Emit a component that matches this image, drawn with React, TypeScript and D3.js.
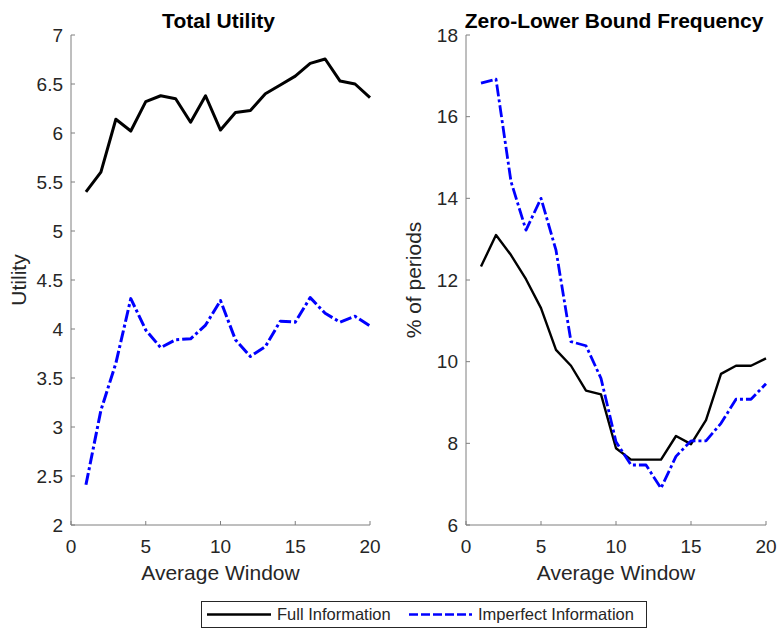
import React from "react";
import * as d3 from "d3";

// Averaging window lengths (x values shared by both panels)
const windows = [1, 2, 3, 4, 5, 6, 7, 8, 9, 10, 11, 12, 13, 14, 15, 16, 17, 18, 19, 20];

// Total utility
const utilityFull = [5.40, 5.60, 6.14, 6.02, 6.32, 6.38, 6.35, 6.11, 6.38, 6.03, 6.21, 6.23, 6.40, 6.49, 6.58, 6.71, 6.755, 6.53, 6.50, 6.36];
const utilityImperfect = [2.41, 3.17, 3.65, 4.31, 3.99, 3.81, 3.89, 3.90, 4.04, 4.29, 3.89, 3.72, 3.82, 4.08, 4.07, 4.32, 4.16, 4.07, 4.13, 4.03];

// Zero-lower bound frequency (% of periods)
const zlbFull = [12.33, 13.10, 12.61, 12.02, 11.31, 10.29, 9.90, 9.29, 9.20, 7.88, 7.60, 7.60, 7.60, 8.18, 7.98, 8.57, 9.70, 9.90, 9.90, 10.08];
const zlbImperfect = [16.82, 16.92, 14.41, 13.22, 14.00, 12.73, 10.49, 10.39, 9.59, 8.04, 7.47, 7.47, 6.90, 7.68, 8.06, 8.06, 8.49, 9.08, 9.08, 9.46];

const xTicks = [0, 5, 10, 15, 20];
const utilityTicks = [2, 2.5, 3, 3.5, 4, 4.5, 5, 5.5, 6, 6.5, 7];
const zlbTicks = [6, 8, 10, 12, 14, 16, 18];

const seriesNames = ["Full Information", "Imperfect Information"];

const FONT = "'Liberation Sans', Arial, Helvetica, sans-serif";
const TEXT = "#262626";
const AXIS = "#7f7f7f";
const BLUE = "#0000ff";
const DASHDOT = "12,3,3,3";

type PanelProps = {
  left: number;
  right: number;
  top: number;
  bottom: number;
  yDomain: [number, number];
  yTicks: number[];
  title: string;
  yLabel: string;
  full: number[];
  imperfect: number[];
  fullWidth: number;
  impWidth: number;
};

function Panel(p: PanelProps) {
  const x = d3.scaleLinear().domain([0, 20]).range([p.left, p.right]);
  const y = d3.scaleLinear().domain(p.yDomain).range([p.bottom, p.top]);
  const line = d3
    .line<number>()
    .x((_, i) => x(windows[i]))
    .y((d) => y(d));
  const cx = (p.left + p.right) / 2;
  const cy = (p.top + p.bottom) / 2;
  return (
    <g>
      <text x={cx - 2} y={p.top - 7} textAnchor="middle" fontFamily={FONT} fontSize={21} fontWeight="bold" fill="#000">
        {p.title}
      </text>
      {/* axis lines */}
      <line x1={p.left} x2={p.left} y1={p.top} y2={p.bottom} stroke={AXIS} strokeWidth={1} />
      <line x1={p.left} x2={p.right} y1={p.bottom} y2={p.bottom} stroke={AXIS} strokeWidth={1} />
      {p.yTicks.map((t) => (
        <g key={"y" + t}>
          <line x1={p.left} x2={p.left + 4} y1={y(t)} y2={y(t)} stroke={AXIS} strokeWidth={1} />
          <text x={p.left - 8} y={y(t)} dy="0.35em" textAnchor="end" fontFamily={FONT} fontSize={19} fill={TEXT}>
            {t}
          </text>
        </g>
      ))}
      {xTicks.map((t) => (
        <g key={"x" + t}>
          <line x1={x(t)} x2={x(t)} y1={p.bottom} y2={p.bottom - 4} stroke={AXIS} strokeWidth={1} />
          <text x={x(t)} y={p.bottom + 28} textAnchor="middle" fontFamily={FONT} fontSize={19} fill={TEXT}>
            {t}
          </text>
        </g>
      ))}
      <text x={cx} y={p.bottom + 55} textAnchor="middle" fontFamily={FONT} fontSize={21} fill={TEXT}>
        Average Window
      </text>
      <text
        transform={`translate(${p.left - 45},${cy}) rotate(-90)`}
        textAnchor="middle"
        fontFamily={FONT}
        fontSize={21}
        fill={TEXT}
      >
        {p.yLabel}
      </text>
      <path d={line(p.full) || ""} fill="none" stroke="#000" strokeWidth={p.fullWidth} strokeLinejoin="round" />
      <path
        d={line(p.imperfect) || ""}
        fill="none"
        stroke={BLUE}
        strokeWidth={p.impWidth}
        strokeDasharray={DASHDOT}
        strokeLinejoin="round"
      />
    </g>
  );
}

export default function App() {
  const W = 779;
  const H = 629;
  return (
    <svg
      width={W}
      height={H}
      style={{ position: "absolute", left: 0, top: 0, background: "#fff" }}
    >
      <rect x={0} y={0} width={W} height={H} fill="#fff" />
      <Panel
        left={71}
        right={370}
        top={35}
        bottom={525}
        yDomain={[2, 7]}
        yTicks={utilityTicks}
        title="Total Utility"
        yLabel="Utility"
        full={utilityFull}
        imperfect={utilityImperfect}
        fullWidth={3}
        impWidth={3}
      />
      <Panel
        left={466}
        right={766}
        top={35}
        bottom={525}
        yDomain={[6, 18]}
        yTicks={zlbTicks}
        title="Zero-Lower Bound Frequency"
        yLabel="% of periods"
        full={zlbFull}
        imperfect={zlbImperfect}
        fullWidth={2.4}
        impWidth={2.8}
      />
      {/* legend */}
      <g>
        <rect x={201.5} y={601.5} width={445} height={26} fill="#fff" stroke={TEXT} strokeWidth={1} />
        <line x1={207} x2={271} y1={614.5} y2={614.5} stroke="#000" strokeWidth={2.5} />
        <text x={277} y={614.5} dy="0.35em" fontFamily={FONT} fontSize={16.5} fill={TEXT}>
          {seriesNames[0]}
        </text>
        <line x1={409} x2={472} y1={614.5} y2={614.5} stroke={BLUE} strokeWidth={2.5} strokeDasharray="9,3" />
        <text x={478} y={614.5} dy="0.35em" fontFamily={FONT} fontSize={16.5} fill={TEXT}>
          {seriesNames[1]}
        </text>
      </g>
    </svg>
  );
}
